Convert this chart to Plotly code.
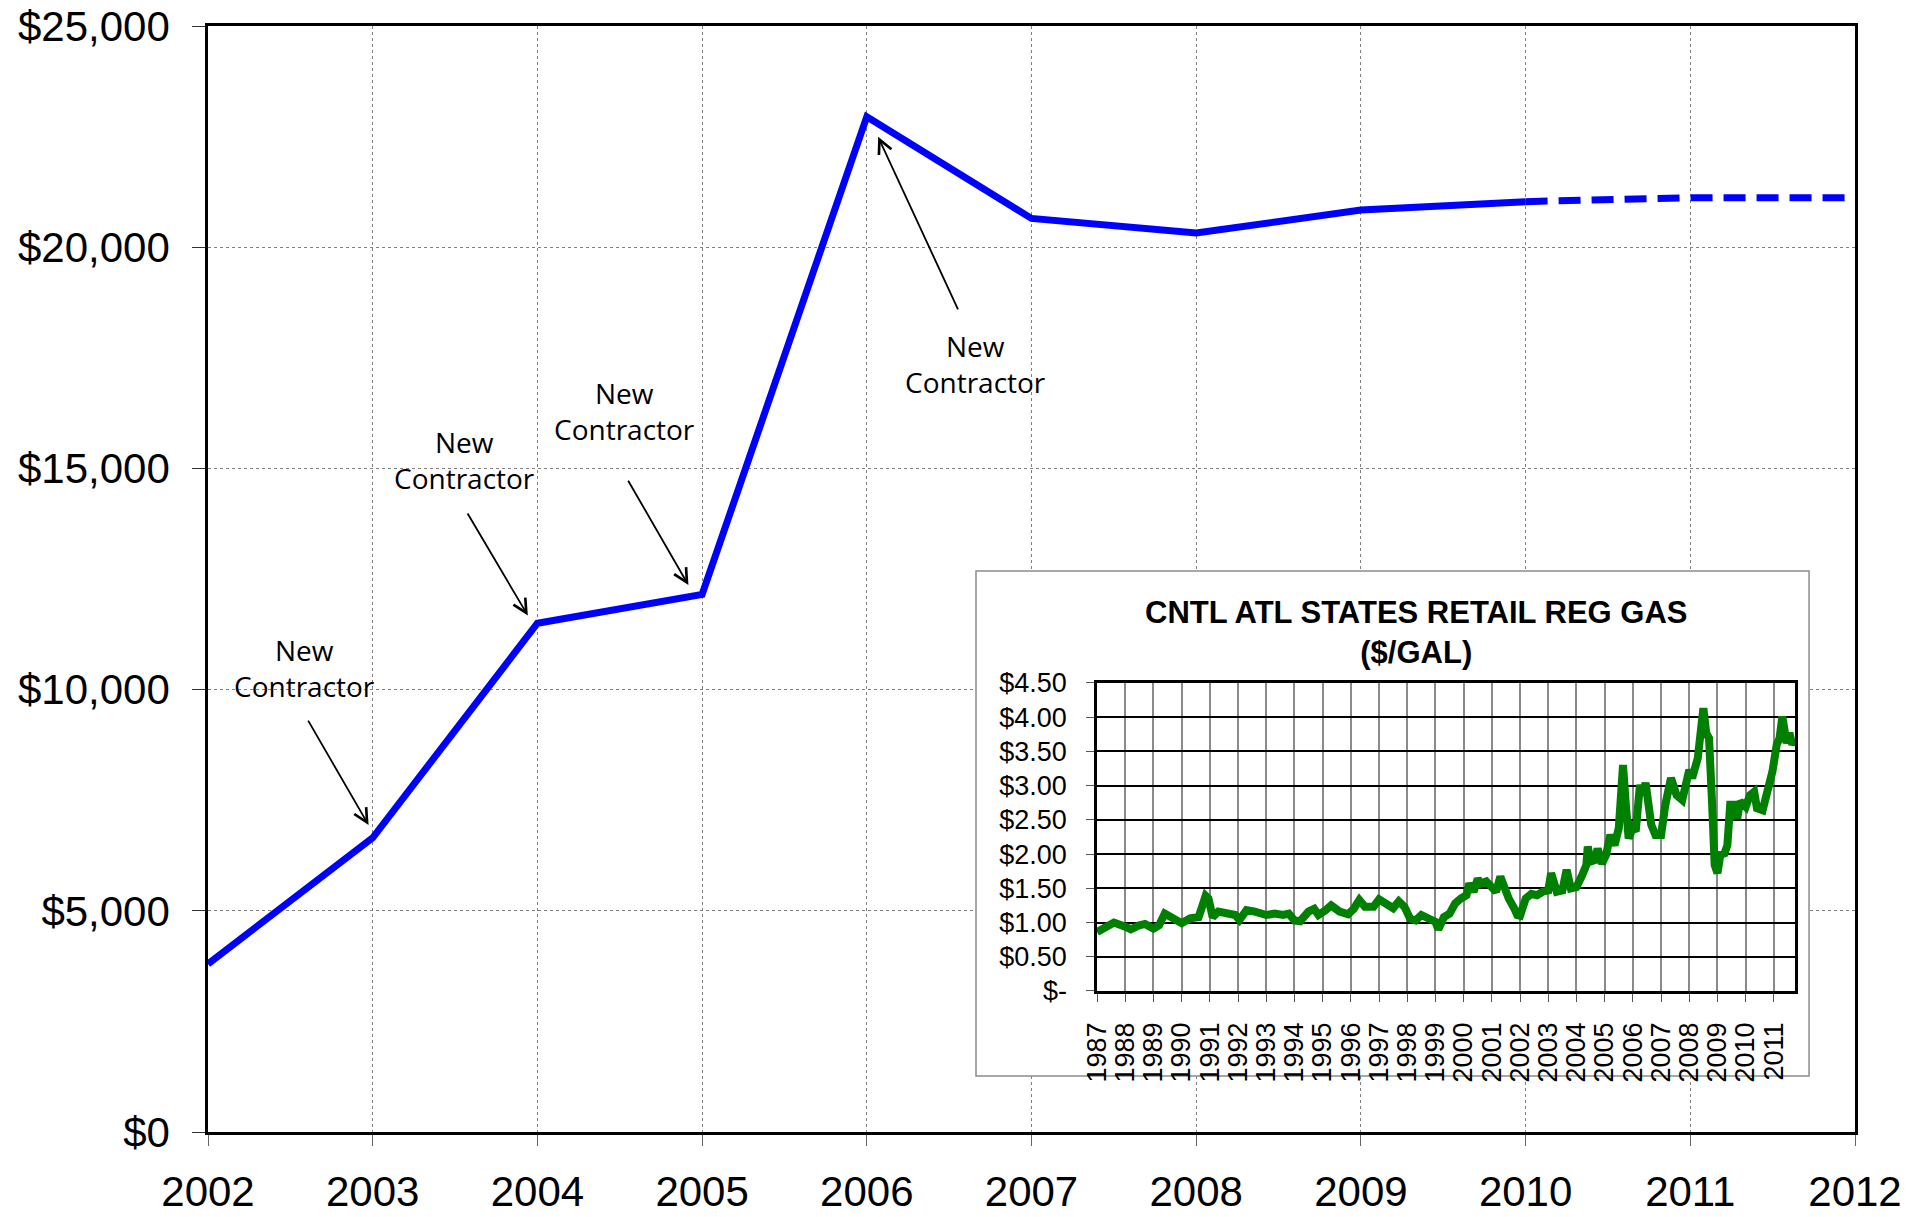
import plotly.graph_objects as go

# ---- main series (cost per year) ----
years = [2002, 2003, 2004, 2005, 2006, 2007, 2008, 2009, 2010]
cost = [3800, 6650, 11500, 12150, 22950, 20650, 20320, 20840, 21030]
proj_years = [2010, 2011, 2012]
proj_cost = [21030, 21120, 21120]

# ---- inset series: Central Atlantic retail regular gasoline ($/gal) ----
gas_t = [1987.0, 1987.3, 1987.5, 1987.6, 1988.0, 1988.2, 1988.5, 1988.7, 1989.0, 1989.2,
         1989.4, 1989.6, 1989.9, 1990.0, 1990.3, 1990.6, 1990.7, 1990.85, 1990.95, 1991.1,
         1991.3, 1991.6, 1991.9, 1992.05, 1992.3, 1992.6, 1993.0, 1993.3, 1993.6, 1993.8,
         1994.0, 1994.2, 1994.5, 1994.7, 1994.85, 1995.1, 1995.3, 1995.6, 1995.9, 1996.1,
         1996.3, 1996.5, 1996.8, 1997.0, 1997.2, 1997.5, 1997.7, 1997.9, 1998.1, 1998.3,
         1998.5, 1998.8, 1999.0, 1999.1, 1999.3, 1999.5, 1999.7, 1999.9, 2000.1, 2000.2,
         2000.35, 2000.5, 2000.6, 2000.8, 2001.0, 2001.15, 2001.3, 2001.45, 2001.6, 2001.8,
         2001.9, 2002.0, 2002.2, 2002.4, 2002.6, 2002.8, 2003.0, 2003.1, 2003.3, 2003.5,
         2003.65, 2003.8, 2004.0, 2004.2, 2004.35, 2004.4, 2004.5, 2004.65, 2004.75, 2004.9,
         2005.05, 2005.2, 2005.35, 2005.5, 2005.65, 2005.75, 2005.85, 2006.0, 2006.1, 2006.25,
         2006.35, 2006.45, 2006.65, 2006.8, 2007.0, 2007.15, 2007.35, 2007.55, 2007.75, 2008.0,
         2008.1, 2008.3, 2008.45, 2008.5, 2008.6, 2008.7, 2008.8, 2008.9, 2009.0, 2009.1,
         2009.25, 2009.35, 2009.45, 2009.55, 2009.7, 2009.8, 2010.0, 2010.15, 2010.3, 2010.4,
         2010.6, 2010.8, 2010.95, 2011.1, 2011.2, 2011.3, 2011.45, 2011.55, 2011.65, 2011.75]
gas_p = [0.86, 0.92, 0.96, 1.00, 0.94, 0.90, 0.96, 0.98, 0.91, 0.96,
         1.13, 1.08, 1.01, 0.99, 1.06, 1.08, 1.20, 1.39, 1.35, 1.08,
         1.16, 1.13, 1.11, 1.04, 1.18, 1.16, 1.11, 1.13, 1.11, 1.13,
         1.03, 1.02, 1.16, 1.20, 1.11, 1.18, 1.25, 1.16, 1.12, 1.20,
         1.33, 1.23, 1.23, 1.34, 1.28, 1.21, 1.31, 1.23, 1.06, 1.03,
         1.11, 1.06, 1.01, 0.90, 1.08, 1.13, 1.28, 1.35, 1.40, 1.57,
         1.45, 1.64, 1.57, 1.60, 1.50, 1.45, 1.67, 1.47, 1.35, 1.20,
         1.11, 1.10, 1.35, 1.42, 1.40, 1.45, 1.47, 1.72, 1.45, 1.47,
         1.77, 1.50, 1.52, 1.69, 1.84, 2.11, 1.89, 1.91, 2.08, 1.86,
         1.99, 2.28, 2.13, 2.38, 3.30, 2.72, 2.23, 2.38, 2.33, 3.01,
         2.86, 3.04, 2.43, 2.28, 2.28, 2.72, 3.11, 2.86, 2.79, 3.23,
         3.11, 3.40, 4.13, 4.13, 3.77, 3.69, 2.82, 1.84, 1.72, 1.99,
         2.01, 2.13, 2.72, 2.72, 2.52, 2.77, 2.69, 2.86, 2.91, 2.67,
         2.64, 2.99, 3.21, 3.60, 3.69, 4.01, 3.62, 3.77, 3.60, 3.69]

gas_ticks = [0, 0.5, 1.0, 1.5, 2.0, 2.5, 3.0, 3.5, 4.0, 4.5]
gas_tick_labels = ["$-", "$0.50", "$1.00", "$1.50", "$2.00", "$2.50", "$3.00", "$3.50", "$4.00", "$4.50"]
gas_years = list(range(1987, 2012))

# ---- "New Contractor" call-outs (text centre, arrow tail, arrow head) ----
note_text = "New<br>Contractor"
note_x = [2002.583, 2003.558, 2004.526, 2006.66]
note_y = [10490, 15190, 16290, 17360]
tail_x = [2002.59, 2003.558, 2004.533, 2006.572]
tail_y = [9416, 14097, 14840, 18447]
head_x = [2002.975, 2003.942, 2004.917, 2006.069]
head_y = [6938, 11674, 12362, 22494]

inset_title = "CNTL ATL STATES RETAIL REG GAS<br>($/GAL)"

X_RANGE = [2002, 2012]
Y_RANGE = [0, 25000]

fig = go.Figure()

fig.add_trace(go.Scatter(x=years, y=cost, mode="lines",
                         line=dict(color="#0000FF", width=7),
                         showlegend=False, xaxis="x", yaxis="y"))
fig.add_trace(go.Scatter(x=proj_years, y=proj_cost, mode="lines",
                         line=dict(color="#0000FF", width=7, dash="22px,11px"),
                         showlegend=False, xaxis="x", yaxis="y"))
fig.add_trace(go.Scatter(x=gas_t, y=gas_p, mode="lines",
                         line=dict(color="#008000", width=8),
                         showlegend=False, xaxis="x2", yaxis="y2"))

tick_font = dict(family="Liberation Sans, Arial, sans-serif", size=42, color="black")
inset_font = dict(family="Liberation Sans, Arial, sans-serif", size=27, color="black")

fig.update_layout(
    width=1909, height=1217,
    margin=dict(l=208, r=54, t=26, b=85, autoexpand=False),
    paper_bgcolor="white", plot_bgcolor="white",
    xaxis=dict(range=X_RANGE, dtick=1, tick0=2002, automargin=False,
               showgrid=True, gridcolor="#808080", gridwidth=1, griddash="dot",
               showline=True, linecolor="black", linewidth=2.5, mirror=True,
               ticks="outside", ticklen=11, tickcolor="#666666",
               tickfont=tick_font, ticklabelstandoff=10, zeroline=False,
               fixedrange=True),
    yaxis=dict(range=Y_RANGE, dtick=5000, tickformat="$,.0f", automargin=False,
               showgrid=True, gridcolor="#808080", gridwidth=1, griddash="dot",
               showline=True, linecolor="black", linewidth=2.5, mirror=True,
               ticks="outside", ticklen=13, tickcolor="#333333",
               tickfont=tick_font, ticklabelstandoff=14, zeroline=False,
               fixedrange=True),
    xaxis2=dict(domain=[0.5398, 0.9636], anchor="y2", range=[1987, 2011.75],
                tickvals=gas_years, tickangle=-90, automargin=False,
                showgrid=True, gridcolor="#8a8a8a", gridwidth=1.5,
                showline=True, linecolor="black", linewidth=2.5, mirror=True,
                ticks="outside", ticklen=8, tickcolor="#555555",
                tickfont=inset_font, ticklabelstandoff=10, zeroline=False,
                fixedrange=True),
    yaxis2=dict(domain=[0.1275, 0.406], anchor="x2", range=[0, 4.5],
                tickvals=gas_ticks, ticktext=gas_tick_labels, automargin=False,
                showgrid=True, gridcolor="black", gridwidth=1.5,
                showline=True, linecolor="black", linewidth=2.5, mirror=True,
                ticks="outside", ticklen=8, tickcolor="#555555",
                tickfont=inset_font, ticklabelstandoff=14, zeroline=False,
                fixedrange=True),
)

# inset panel background/border, placed by fractions of the main plot area
box_fx = [0.4663, 0.9721]
box_fy = [0.0506, 0.5072]
fig.add_shape(type="rect", xref="x", yref="y",
              x0=X_RANGE[0] + box_fx[0] * (X_RANGE[1] - X_RANGE[0]),
              x1=X_RANGE[0] + box_fx[1] * (X_RANGE[1] - X_RANGE[0]),
              y0=Y_RANGE[0] + box_fy[0] * (Y_RANGE[1] - Y_RANGE[0]),
              y1=Y_RANGE[0] + box_fy[1] * (Y_RANGE[1] - Y_RANGE[0]),
              fillcolor="white", line=dict(color="#8c8c8c", width=1.5),
              layer="between")

fig.add_annotation(text=inset_title, xref="paper", yref="paper",
                   x=0.7335, y=0.452, showarrow=False, xanchor="center", yanchor="middle",
                   font=dict(family="Liberation Sans, Arial, sans-serif", size=31, color="black",
                             weight="bold"))

for i in range(len(note_x)):
    fig.add_annotation(text=note_text, x=note_x[i], y=note_y[i], xref="x", yref="y",
                       showarrow=False, xanchor="center", yanchor="middle",
                       font=dict(family="Open Sans, sans-serif", size=28, color="black"))
    fig.add_annotation(text=" ", x=head_x[i], y=head_y[i], xref="x", yref="y",
                       ax=tail_x[i], ay=tail_y[i], axref="x", ayref="y",
                       showarrow=True, arrowhead=5, arrowsize=1.5, arrowwidth=1.8,
                       arrowcolor="black", standoff=0, startstandoff=0)

fig.write_html("out.html", config={"displayModeBar": False},
               post_script="document.body.style.margin='0';")
